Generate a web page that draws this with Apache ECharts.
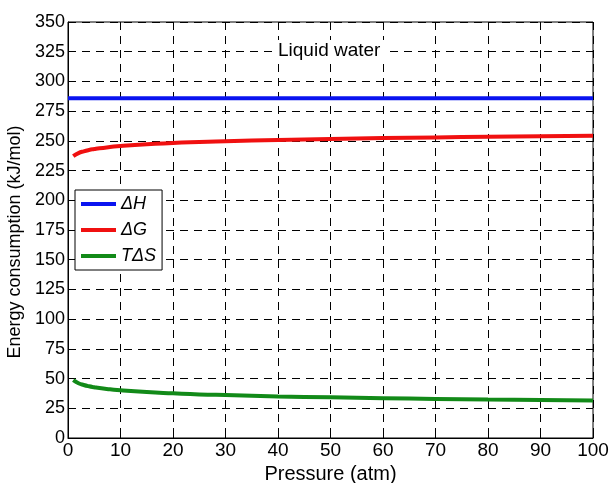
<!DOCTYPE html>
<html>
<head>
<meta charset="utf-8">
<script src="https://cdn.jsdelivr.net/npm/echarts@6/dist/echarts.min.js"></script>
<style>html,body{margin:0;padding:0;background:#fff;}#c{width:609px;height:483px;}</style>
</head>
<body>
<div id="c"></div>
<script>
var pressureH = [0, 100];
var dH = [285.8, 285.8];
var pressure = [1, 2, 3, 4, 5, 6, 8, 10, 15, 20, 25, 30, 40, 50, 60, 70, 80, 90, 100];
var dG = [237.1, 239.7, 241.2, 242.3, 243.1, 243.8, 244.8, 245.7, 247.2, 248.2, 249.1, 249.7, 250.8, 251.6, 252.3, 252.9, 253.4, 253.8, 254.2];
var TdS = [48.7, 46.1, 44.6, 43.5, 42.7, 42.0, 41.0, 40.1, 38.6, 37.6, 36.7, 36.1, 35.0, 34.2, 33.5, 32.9, 32.4, 32.0, 31.6];
var seriesNames = ['ΔH', 'ΔG', 'TΔS'];
var seriesColors = ['#0a14f0', '#f01010', '#128a18'];

function pairs(xs, ys) { return xs.map(function (p, i) { return [p, ys[i]]; }); }

var chart = echarts.init(document.getElementById('c'));
var font = 'Liberation Sans, Arial, sans-serif';
var dashed = { show: true, lineStyle: { color: '#000', type: [8, 6], width: 1 } };
var seriesData = [pairs(pressureH, dH), pairs(pressure, dG), pairs(pressure, TdS)];
chart.setOption({
  animation: false,
  backgroundColor: '#fff',
  title: {
    text: 'Liquid water',
    left: 273, top: 40,
    backgroundColor: '#fff',
    padding: [1, 5],
    textStyle: { fontFamily: font, fontSize: 19, fontWeight: 'normal', color: '#000' }
  },
  grid: { left: 68, right: 16, top: 22, bottom: 45, show: true, borderColor: '#000', borderWidth: 1, containLabel: false, outerBoundsMode: 'none' },
  legend: {
    orient: 'vertical', left: 75, top: 190,
    backgroundColor: '#fff', borderColor: '#000', borderWidth: 1,
    padding: [5, 6, 5, 6], itemGap: 8,
    icon: 'rect', itemWidth: 35, itemHeight: 4,
    textStyle: { fontFamily: font, fontSize: 18, fontStyle: 'italic', color: '#000' },
    data: seriesNames
  },
  xAxis: {
    type: 'value', min: 0, max: 100, interval: 10,
    name: 'Pressure (atm)', nameLocation: 'middle', nameGap: 20,
    nameTextStyle: { fontFamily: font, fontSize: 20, color: '#000' },
    axisLine: { lineStyle: { color: '#000' } },
    axisTick: { inside: true, length: 5, lineStyle: { color: '#000' } },
    axisLabel: { fontFamily: font, fontSize: 19, color: '#000', margin: 3 },
    splitLine: dashed
  },
  yAxis: {
    type: 'value', min: 0, max: 350, interval: 25,
    name: 'Energy consumption (kJ/mol)', nameLocation: 'middle', nameGap: 41,
    nameTextStyle: { fontFamily: font, fontSize: 18, color: '#000', padding: [0, 24, 0, 0] },
    axisLine: { show: true, lineStyle: { color: '#000' } },
    axisTick: { show: true, inside: true, length: 5, lineStyle: { color: '#000' } },
    axisLabel: { fontFamily: font, fontSize: 18, color: '#000', margin: 3 },
    splitLine: dashed
  },
  series: seriesData.map(function (d, i) {
    return {
      name: seriesNames[i], type: 'line', data: d, showSymbol: false, smooth: true,
      color: seriesColors[i], lineStyle: { width: 4, color: seriesColors[i] }, z: 3
    };
  })
});
</script>
</body>
</html>
